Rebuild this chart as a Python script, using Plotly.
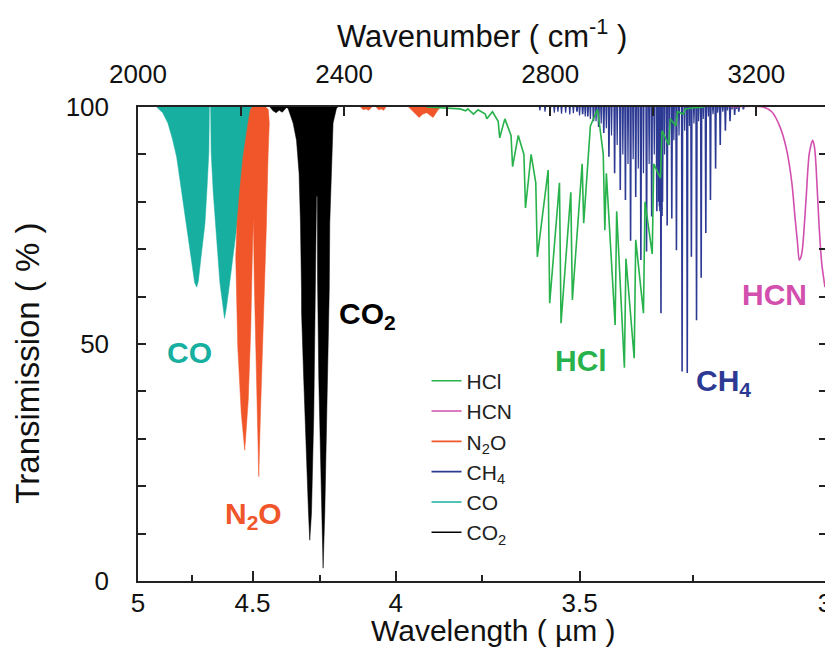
import plotly.graph_objects as go

# ---------------- axis tick data ----------------
wl_major = [5, 4.5, 4, 3.5, 3]              # wavelength (um), bottom axis
wl_major_text = ["5", "4.5", "4", "3.5", "3"]
wl_minor = [4.75, 4.25, 3.75, 3.25]
wn_major = [2000, 2400, 2800, 3200]         # wavenumber (cm-1), top axis
wn_minor = [2200, 2600, 3000]
t_major = [0, 50, 100]
t_minor = [10, 20, 30, 40, 60, 70, 80, 90]
wn_min, wn_max = 2000, 10000 / 3.0

# ---------------- CO band (filled envelope) ----------------
co_wn = [2036, 2048, 2058, 2067, 2075, 2084, 2094, 2102, 2110, 2114, 2117, 2123, 2130, 2134, 2137.5, 2138.5, None,
         2141, 2142, 2146, 2150, 2159, 2168, 2172, 2178, 2185, 2192, 2200, 2206, 2212, 2218, 2224, 2230]
co_T = [100, 98.8, 96.6, 93.2, 89.5, 82.5, 75.5, 68.4, 62.9, 62.0, 63.2, 69.0, 75.5, 83.0, 90.5, 100, None,
        100, 90.5, 82.0, 75.5, 62.9, 55.4, 58.0, 63.0, 69.0, 75.5, 82.0, 88.8, 93.0, 96.2, 98.5, 100]

# ---------------- N2O band (filled envelope) ----------------
n2o_wn = [2222, 2218, 2213.6, 2203.9, 2197.5, 2192.2, 2189.7, 2190.7, 2193.6, 2200.4, 2207.2, 2214, 2218.8,
          2221.7, 2222.9, 2224, 2225.6, 2229.5, 2234.4, 2237.3, 2241.6, 2246, 2249.3, 2252.4, 2254.8, 2253, 2248, None,
          2432, 2437, 2442, 2448, 2454, None, 2462, 2467, 2472, 2477, 2481, None,
          2525, 2535, 2545.6, 2553, 2560.6, 2566, 2572.8, 2580, 2587]
n2o_T = [100, 99.4, 96.6, 89.5, 82.5, 75.5, 68.4, 61.4, 49.4, 35.4, 27.6, 38.2, 53.0,
         67.7, 76.9, 76.9, 63.5, 42.4, 22.0, 34.0, 48.7, 61.4, 75.5, 89.5, 96.6, 99.4, 100, None,
         100, 99.4, 99.6, 99.3, 100, None, 100, 99.4, 99.6, 99.3, 100, None,
         100, 99.0, 97.8, 98.5, 98.8, 98.3, 97.8, 99.0, 100]

# ---------------- CO2 band (filled envelope) ----------------
co2_wn = [2256, 2262, 2268, 2274, 2280, 2286, 2289, None,
          2288, 2291.3, 2301, 2307.6, 2312.6, 2315.3, 2317.3, 2317.5, 2321.7, 2325.6, 2330.9, 2333.4, 2336.7,
          2341.2, 2343.1, 2346.4, 2348, 2348.5, 2350.9, 2354.8, 2359.2, 2362.5, 2367, 2370.9, 2371.2, 2372.2,
          2375.5, 2378.6, 2385.2, 2388]
co2_T = [100, 99.2, 98.8, 99.3, 98.9, 99.5, 100, None,
         100, 99.7, 96.6, 93.0, 86.0, 75.5, 61.4, 56.5, 42.4, 28.3, 14.3, 8.6, 14.3,
         35.4, 56.5, 81.1, 81.1, 63.5, 42.4, 21.3, 2.7, 14.3, 35.4, 56.5, 61.4, 75.5,
         89.5, 96.6, 99.7, 100]

# ---------------- HCl spectrum (line vertices) ----------------
hcl_wn = [2560, 2625, 2636, 2640, 2648, 2651, 2660, 2674, 2677, 2688, 2699, 2702, 2712, 2724, 2727, 2738, 2749,
          2752, 2763, 2772, 2775, 2796, 2799, 2818, 2821, 2840, 2843, 2862, 2865, 2878, 2892,
          2903, 2906, 2909, 2926, 2929, 2944, 2947, 2963, 2966, 2981, 2984, 2998, 3001, 3014, 3017, 3030, 3033,
          3044, 3047, 3059, 3062, 3075, 3100]
hcl_T = [100, 99.6, 99.2, 99.6, 98.8, 98.5, 99.4, 98.5, 97.5, 99.0, 97.0, 93.5, 97.5, 94.0, 87.4, 94.0, 90.0,
         78.7, 90.0, 84.0, 68.4, 86.7, 58.6, 84.0, 54.4, 82.0, 59.3, 88.0, 75.5, 96.0, 99.5,
         90.0, 74.0, 86.0, 54.0, 78.0, 45.0, 68.0, 47.0, 72.0, 56.5, 80.0, 69.0, 88.0, 85.0, 95.0, 92.0, 97.5,
         96.0, 99.0, 98.5, 99.6, 99.8, 100]

# ---------------- CH4 lines (centre, minimum transmission) ----------------
ch4_wn = [2852, 2863, 2873, 2884, 2894, 2904, 2914, 2925, 2936, 2946, 2956, 2966, 2976, 2987, 2997, 3007,
          3010, 3012, 3013, 3015, 3017, 3018,
          3027, 3036, 3045, 3056, 3066, 3074, 3084, 3093, 3102, 3111, 3121, 3130, 3140, 3149, 3158, 3166, 3175]
ch4_T = [99.0, 98.5, 98.0, 97.0, 95.8, 94.5, 89.5, 86.0, 82.5, 80.4, 71.8, 81.0, 67.7, 69.5, 76.9, 78.0,
         80.0, 79.0, 78.0, 56.5, 77.0, 80.0,
         75.0, 76.5, 69.8, 44.2, 43.9, 68.4, 55.0, 64.0, 73.4, 80.4, 87.0, 92.0, 95.0, 97.0, 98.3, 99.0, 99.5]
ch4_weak_wn = [2780, 2790, 2800, 2808, 2815, 2822, 2830, 2838, 2845, 2857, 2868, 2878, 2889, 2899, 2909, 2919,
               2930, 2941, 2951, 2961, 2971, 2981, 2992, 3002, 3022, 3031, 3040, 3050, 3061, 3070, 3079, 3088,
               3097, 3107, 3116, 3125, 3135, 3144, 3153, 3162]
ch4_weak_T = [99.3, 99.0, 99.2, 98.8, 99.0, 98.6, 98.8, 98.4, 98.7, 98.2, 98.0, 97.5, 97.0, 96.5, 95.5, 94.0,
              92.0, 90.0, 88.0, 89.0, 87.0, 86.0, 88.0, 90.0, 90.0, 92.0, 93.0, 94.0, 95.0, 96.0, 96.5, 97.0,
              97.5, 98.0, 98.5, 98.8, 99.0, 99.3, 99.5, 99.6]

# ---------------- HCN spectrum ----------------
hcn_wn = [3150, 3213, 3230, 3246, 3259, 3269, 3275, 3280, 3283.5, 3287, 3290, 3296.5, 3303, 3309.5, 3313,
          3316, 3322, 3327, 3333.3]
hcn_T = [100, 100, 99.0, 95.8, 90.9, 84.0, 76.9, 71.3, 67.7, 68.5, 70.5, 80.4, 90.3, 93.0, 91.5,
         87.4, 74.7, 67.0, 62.0]

# ---------------- colours / labels ----------------
C_HCL = "#27B24B"
C_HCN = "#D24FAE"
C_N2O = "#F0562A"
C_CH4 = "#2D3A94"
C_CO = "#17AFA0"
C_CO2 = "#000000"
FONT = "Liberation Sans, Arial, Helvetica, sans-serif"


def spikes(wn, T, hw):
    xs, ys = [], []
    for w, t in zip(wn, T):
        xs += [w - hw, w, w + hw, None]
        ys += [100, t, 100, None]
    return xs, ys


fig = go.Figure()

fig.add_trace(go.Scatter(x=co_wn, y=co_T, fill="toself", fillcolor=C_CO, mode="lines",
                         line=dict(color=C_CO, width=0.5), showlegend=False, hoverinfo="skip"))
fig.add_trace(go.Scatter(x=n2o_wn, y=n2o_T, fill="toself", fillcolor=C_N2O, mode="lines",
                         line=dict(color=C_N2O, width=0.5), showlegend=False, hoverinfo="skip"))
fig.add_trace(go.Scatter(x=co2_wn, y=co2_T, fill="toself", fillcolor=C_CO2, mode="lines",
                         line=dict(color=C_CO2, width=0.5), showlegend=False, hoverinfo="skip"))

wx, wy = spikes(ch4_weak_wn, ch4_weak_T, 1.0)
fig.add_trace(go.Scatter(x=wx, y=wy, mode="lines", line=dict(color=C_CH4, width=1.2),
                         showlegend=False, hoverinfo="skip"))
sx, sy = spikes(ch4_wn, ch4_T, 0.9)
fig.add_trace(go.Scatter(x=sx, y=sy, mode="lines", line=dict(color=C_CH4, width=1.6),
                         showlegend=False, hoverinfo="skip"))
fig.add_trace(go.Scatter(x=hcl_wn, y=hcl_T, mode="lines", line=dict(color=C_HCL, width=1.6),
                         showlegend=False, hoverinfo="skip"))
fig.add_trace(go.Scatter(x=hcn_wn, y=hcn_T, mode="lines", line=dict(color=C_HCN, width=1.6, shape="spline",
                         smoothing=0.8), showlegend=False, hoverinfo="skip"))

# legend entries
for name, col in [("HCl", C_HCL), ("HCN", C_HCN), ("N<sub>2</sub>O", C_N2O),
                  ("CH<sub>4</sub>", C_CH4), ("CO", C_CO), ("CO<sub>2</sub>", C_CO2)]:
    fig.add_trace(go.Scatter(x=[None], y=[None], mode="lines", name=name,
                             line=dict(color=col, width=1.6)))

# dummy trace for secondary axes
fig.add_trace(go.Scatter(x=[None], y=[None], xaxis="x2", yaxis="y2", showlegend=False))

axis_line = dict(showline=True, linecolor="#222", linewidth=1.5, showgrid=False, zeroline=False,
                 automargin=False)
tickfont = dict(family=FONT, size=26, color="#111")

# the page body adds an 8 px offset, so the figure is 8 px smaller than the window
fig.update_layout(
    width=825, height=656,
    margin=dict(l=130, r=8, t=99, b=83, autoexpand=False),
    paper_bgcolor="white", plot_bgcolor="white",
    font=dict(family=FONT, color="#111"),
    xaxis=dict(range=[wn_min, wn_max], tickmode="array",
               tickvals=[10000 / v for v in wl_major], ticktext=wl_major_text,
               ticks="inside", ticklen=10, tickwidth=1.5, tickcolor="#222",
               minor=dict(tickmode="array", tickvals=[10000 / v for v in wl_minor],
                          ticks="inside", ticklen=6, tickwidth=1.5, tickcolor="#222"),
               tickfont=tickfont, ticklabelstandoff=-2, **axis_line),
    xaxis2=dict(range=[wn_min, wn_max], overlaying="x", side="top", tickmode="array",
                tickvals=wn_major, ticks="inside", ticklen=9, tickwidth=1.5, tickcolor="#222",
                minor=dict(tickmode="array", tickvals=wn_minor, ticks="inside", ticklen=9,
                           tickwidth=1.5, tickcolor="#222"),
                tickfont=tickfont, ticklabelstandoff=12, **axis_line),
    yaxis=dict(range=[0, 100], tickmode="array", tickvals=t_major,
               ticks="inside", ticklen=8, tickwidth=1.5, tickcolor="#222",
               minor=dict(tickmode="array", tickvals=t_minor, ticks="inside", ticklen=8,
                          tickwidth=1.5, tickcolor="#222"),
               tickfont=tickfont, ticklabelstandoff=22, **axis_line),
    yaxis2=dict(range=[0, 100], overlaying="y", side="right", tickmode="array",
                tickvals=t_major + t_minor, ticks="inside", ticklen=6, tickwidth=1.5, tickcolor="#222",
                showticklabels=False, **axis_line),
    legend=dict(x=0.42, y=0.465, xanchor="left", yanchor="top", bgcolor="rgba(0,0,0,0)",
                font=dict(family=FONT, size=21, color="#222"), tracegroupgap=0),
    showlegend=True,
)

ann = []
# axis titles
ann.append(dict(text="Wavenumber ( cm<sup>-1</sup> )", x=0.5, y=1.155, xref="paper", yref="paper",
                showarrow=False, xanchor="center", yanchor="middle", font=dict(family=FONT, size=31, color="#111")))
ann.append(dict(text="Wavelength ( \u00b5m )", x=0.517, y=-0.104, xref="paper", yref="paper",
                showarrow=False, xanchor="center", yanchor="middle", font=dict(family=FONT, size=30, color="#111")))
ann.append(dict(text="Transimission ( % )", x=-0.1606, y=0.46, xref="paper", yref="paper", textangle=-90,
                showarrow=False, xanchor="center", yanchor="middle", font=dict(family=FONT, size=33, color="#111")))
# species labels
labels = [("CO", 2100.4, 48.2, C_CO), ("N<sub>2</sub>O", 2223.3, 13.8, C_N2O),
          ("CO<sub>2</sub>", 2446, 56.0, C_CO2), ("HCl", 2859.2, 46.6, C_HCL),
          ("CH<sub>4</sub>", 3137.3, 41.8, C_CH4), ("HCN", 3234.8, 60.5, C_HCN)]
for txt, xv, yv, col in labels:
    ann.append(dict(text="<b>" + txt + "</b>", x=xv, y=yv, xref="x", yref="y", showarrow=False,
                    xanchor="center", yanchor="middle", font=dict(family=FONT, size=30, color=col)))
fig.update_layout(annotations=ann)

fig.write_html("out.html")
